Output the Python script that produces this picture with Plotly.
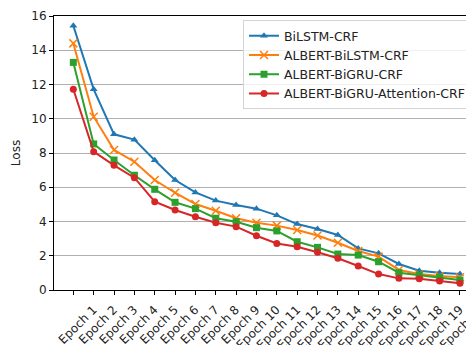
import plotly.graph_objects as go

epochs = [f"Epoch {i}" for i in range(1, 21)]

bilstm_crf = [15.43, 11.72, 9.09, 8.78, 7.58, 6.42, 5.70, 5.22, 4.96, 4.75,
              4.36, 3.85, 3.56, 3.21, 2.43, 2.14, 1.52, 1.13, 1.01, 0.93]
albert_bilstm_crf = [14.4, 10.12, 8.18, 7.49, 6.42, 5.68, 5.02, 4.63, 4.19, 3.93,
                     3.76, 3.50, 3.18, 2.76, 2.28, 1.95, 1.17, 0.93, 0.82, 0.74]
albert_bigru_crf = [13.29, 8.53, 7.59, 6.70, 5.88, 5.12, 4.75, 4.19, 3.99, 3.64,
                    3.45, 2.82, 2.49, 2.10, 2.04, 1.65, 1.01, 0.88, 0.74, 0.58]
albert_bigru_att_crf = [11.72, 8.08, 7.28, 6.56, 5.16, 4.67, 4.28, 3.93, 3.70, 3.17,
                        2.72, 2.53, 2.20, 1.85, 1.40, 0.93, 0.68, 0.66, 0.53, 0.39]

series = [
    ("BiLSTM-CRF", bilstm_crf, "#1f77b4", "triangle-up"),
    ("ALBERT-BiLSTM-CRF", albert_bilstm_crf, "#ff7f0e", "x-thin"),
    ("ALBERT-BiGRU-CRF", albert_bigru_crf, "#2ca02c", "square"),
    ("ALBERT-BiGRU-Attention-CRF", albert_bigru_att_crf, "#d62728", "circle"),
]

x_idx = list(range(len(epochs)))

fig = go.Figure()
for name, vals, color, sym in series:
    if sym == "x-thin":
        marker = dict(symbol=sym, size=8, color=color, line=dict(color=color, width=1.5))
    else:
        marker = dict(symbol=sym, size=7, color=color, line=dict(width=0))
    fig.add_trace(go.Scatter(
        x=x_idx, y=vals, name=name, mode="lines+markers",
        line=dict(color=color, width=2), marker=marker,
    ))

# the page body has an 8px margin, so the figure is sized to fill the rest
fig.update_layout(
    width=466, height=337,
    margin=dict(l=46, r=0, t=8, b=55, autoexpand=False),
    paper_bgcolor="white", plot_bgcolor="white",
    font=dict(family="DejaVu Sans", size=12, color="#222222"),
    showlegend=True,
    legend=dict(
        x=0.45, y=0.985, xanchor="left", yanchor="top",
        bgcolor="rgba(255,255,255,0.8)", bordercolor="#d4d4d4", borderwidth=1,
        font=dict(size=12.5, color="#222222"), tracegroupgap=0,
        itemwidth=30,
    ),
    xaxis=dict(
        range=[-0.95, 19.69], automargin=False,
        tickmode="array", tickvals=x_idx, ticktext=epochs,
        tickangle=-45, ticklabelshift=20, ticklabelstandoff=3,
        ticklabeloverflow="allow",
        showgrid=False, zeroline=False,
        showline=True, linecolor="black", linewidth=1, mirror=True,
        ticks="outside", ticklen=4, tickcolor="black",
    ),
    yaxis=dict(
        range=[0, 16], tickvals=[0, 2, 4, 6, 8, 10, 12, 14, 16], automargin=False,
        showgrid=True, gridcolor="#b0b0b0", gridwidth=1, zeroline=False,
        showline=True, linecolor="black", linewidth=1,
        ticks="outside", ticklen=4, tickcolor="black",
        title=dict(text="Loss", standoff=8, font=dict(size=12)),
    ),
)

fig.write_html("out.html")
